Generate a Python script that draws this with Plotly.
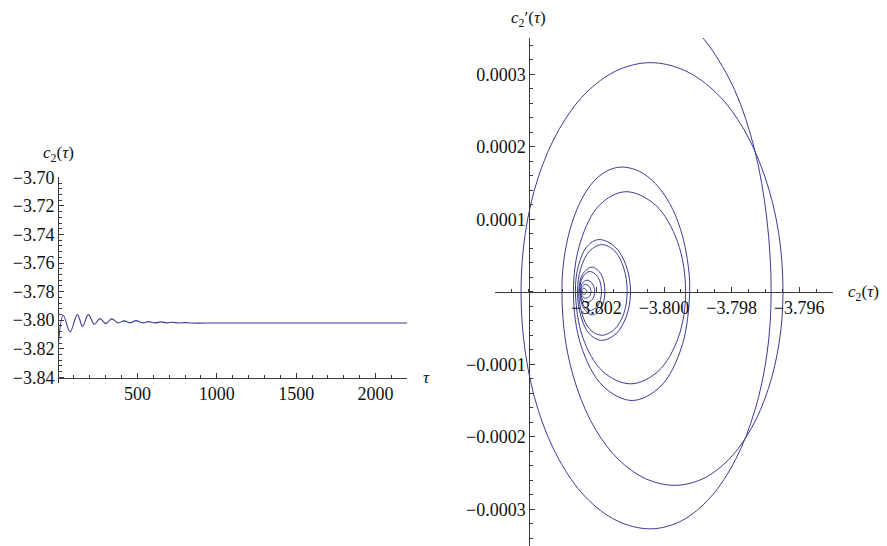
import plotly.graph_objects as go

# ---------------- data ----------------
# left panel: c2(tau) time series (extrema)
tau = [0, 33, 76, 122, 155, 191, 229, 264, 302, 338, 380, 416, 453, 491,
       533, 569, 611, 649, 685, 723, 760, 800, 840, 1000, 1500, 2000, 2200]
c2 = [-3.8200, -3.7966, -3.8082, -3.7961, -3.8043, -3.7961, -3.8029,
      -3.7989, -3.8024, -3.7991, -3.8019, -3.8005, -3.8019, -3.8003, -3.8019,
      -3.8010, -3.8019, -3.8012, -3.8019, -3.8015, -3.8020, -3.8017, -3.8020,
      -3.8020, -3.8020, -3.8020, -3.8020]

# right panel: phase portrait (c2, c2'), points read along the spiral
phase_c2 = [
    # incoming branch
    -3.79986, -3.79924, -3.79867, -3.79790, -3.79732, -3.79696, -3.79683,
    # loop 1
    -3.79695, -3.79731, -3.79788, -3.79862, -3.79948, -3.80040,
    -3.80139, -3.80232, -3.80311, -3.80372, -3.80410, -3.80423,
    -3.80410, -3.80372, -3.80311, -3.80232, -3.80139, -3.80040,
    -3.79939, -3.79844, -3.79763, -3.79701, -3.79661, -3.79648,
    # loop 2
    -3.79659, -3.79691, -3.79742, -3.79808, -3.79885, -3.79968,
    -3.80054, -3.80135, -3.80204, -3.80257, -3.80291, -3.80302,
    -3.80296, -3.80278, -3.80250, -3.80214, -3.80171, -3.80125,
    -3.80073, -3.80025, -3.79983, -3.79951, -3.79931, -3.79924,
    # loop 3
    -3.79947, -3.80009, -3.80094, -3.80181, -3.80245, -3.80268,
    -3.80247, -3.80191, -3.80113, -3.80025, -3.79960, -3.79936,
    # loop 4
    -3.79958, -3.80018, -3.80099, -3.80181, -3.80240, -3.80262,
    -3.80253, -3.80228, -3.80193, -3.80146, -3.80112, -3.80099,
    -3.80111, -3.80142, -3.80185, -3.80221, -3.80246, -3.80256,
    # loop 5
    -3.80246, -3.80220, -3.80183, -3.80146, -3.80119, -3.80109,
    -3.80119, -3.80147, -3.80185, -3.80219, -3.80243, -3.80252,
    # inner loops
    -3.80241, -3.80213, -3.80186, -3.80175, -3.80186, -3.80212, -3.80238,
    -3.80249, -3.80241, -3.80220, -3.80195, -3.80185, -3.80195, -3.80220,
    -3.80239,
    -3.80247, -3.80242, -3.80228, -3.80212, -3.80205, -3.80212, -3.80228,
    -3.80241,
    -3.80246, -3.80242, -3.80233, -3.80221, -3.80216, -3.80221, -3.80233,
    -3.80241,
    -3.80245, -3.80237, -3.80228, -3.80237, -3.80244, -3.80240,
]
phase_dc2 = [
    3.860e-4, 3.684e-4, 3.395e-4, 2.772e-4, 1.960e-4, 1.015e-4, 0.0,
    -0.846e-4, -1.635e-4, -2.312e-4, -2.832e-4, -3.159e-4, -3.27e-4,
    -3.159e-4, -2.832e-4, -2.312e-4, -1.635e-4, -0.846e-4, 0.0,
    0.818e-4, 1.58e-4, 2.234e-4, 2.737e-4, 3.052e-4, 3.16e-4,
    3.052e-4, 2.737e-4, 2.234e-4, 1.58e-4, 0.818e-4, 0.0,
    -0.691e-4, -1.335e-4, -1.888e-4, -2.312e-4, -2.579e-4, -2.67e-4,
    -2.579e-4, -2.312e-4, -1.888e-4, -1.335e-4, -0.691e-4, 0.0,
    0.445e-4, 0.86e-4, 1.216e-4, 1.49e-4, 1.661e-4, 1.72e-4,
    1.661e-4, 1.49e-4, 1.216e-4, 0.86e-4, 0.445e-4, 0.0,
    -0.75e-4, -1.299e-4, -1.50e-4, -1.299e-4, -0.75e-4, 0.0,
    0.69e-4, 1.195e-4, 1.38e-4, 1.195e-4, 0.69e-4, 0.0,
    -0.635e-4, -1.10e-4, -1.27e-4, -1.10e-4, -0.635e-4, 0.0,
    0.36e-4, 0.624e-4, 0.72e-4, 0.624e-4, 0.36e-4, 0.0,
    -0.335e-4, -0.58e-4, -0.67e-4, -0.58e-4, -0.335e-4, 0.0,
    0.325e-4, 0.563e-4, 0.65e-4, 0.563e-4, 0.325e-4, 0.0,
    -0.30e-4, -0.52e-4, -0.60e-4, -0.52e-4, -0.30e-4, 0.0,
    0.24e-4, 0.34e-4, 0.24e-4, 0.0, -0.226e-4, -0.32e-4, -0.226e-4,
    0.0, 0.198e-4, 0.28e-4, 0.198e-4, 0.0, -0.184e-4, -0.26e-4,
    -0.184e-4,
    0.0, 0.113e-4, 0.16e-4, 0.113e-4, 0.0, -0.106e-4, -0.15e-4,
    -0.106e-4,
    0.0, 0.071e-4, 0.10e-4, 0.071e-4, 0.0, -0.064e-4, -0.09e-4,
    -0.064e-4,
    0.0, 0.05e-4, 0.0, -0.04e-4, 0.0, 0.01e-4,
]

left_xticks = [500, 1000, 1500, 2000]
left_yticks = [-3.70, -3.72, -3.74, -3.76, -3.78, -3.80, -3.82, -3.84]
right_xticks = [-3.802, -3.800, -3.798, -3.796]
right_yticks = [-0.0003, -0.0002, -0.0001, 0.0001, 0.0002, 0.0003]

# ---------------- style ----------------
LINE = "rgb(58,58,150)"
AX = "#3a3a3a"
SERIF = "Liberation Serif, Times New Roman, serif"
FONT = dict(family=SERIF, size=18, color="#111")

W, H = 887, 546
OFF = 8  # page body margin


def fx(p):
    return (p - OFF) / W


def fy(p):
    return 1 - (p - OFF) / H


fig = go.Figure()
fig.add_trace(go.Scatter(x=tau, y=c2, mode="lines",
                         line=dict(color=LINE, width=1.1, shape="spline", smoothing=1.0),
                         xaxis="x", yaxis="y", hoverinfo="skip", showlegend=False))
fig.add_trace(go.Scatter(x=phase_c2, y=phase_dc2, mode="lines",
                         line=dict(color=LINE, width=1.0, shape="spline", smoothing=1.0),
                         xaxis="x2", yaxis="y2", hoverinfo="skip", showlegend=False))


def ax_common():
    return dict(showgrid=False, zeroline=False, showline=True, linecolor=AX,
                linewidth=1, ticks="inside", ticklen=5, tickwidth=1,
                tickcolor=AX, tickfont=FONT, fixedrange=True)


# left panel
x1 = ax_common()
x1.update(domain=[fx(58), fx(407.3)], range=[0, 2200], anchor="free",
          position=fy(377.5), tickmode="array", tickvals=left_xticks,
          minor=dict(ticks="inside", ticklen=2.5, dtick=100, tick0=0,
                     tickcolor=AX, showgrid=False))
y1 = ax_common()
y1.update(domain=[fy(383), fy(177.3)], range=[-3.844, -3.70],
          anchor="free", position=fx(58), tickmode="array",
          tickvals=left_yticks, tickformat=".2f",
          minor=dict(ticks="inside", ticklen=2.5, dtick=0.004, tick0=-3.84,
                     tickcolor=AX, showgrid=False))
# right panel
x2 = ax_common()
x2.update(domain=[fx(495), fx(833)], range=[-3.805, -3.795], anchor="free",
          position=fy(291.7), tickmode="array", tickvals=right_xticks,
          tickformat=".3f",
          minor=dict(ticks="inside", ticklen=2.5, dtick=0.0005, tick0=-3.805,
                     tickcolor=AX, showgrid=False))
y2 = ax_common()
y2.update(domain=[fy(545.5), fy(38)], range=[-0.00035, 0.00035],
          anchor="free", position=fx(529.3), tickmode="array",
          tickvals=right_yticks, tickformat=".4f",
          minor=dict(ticks="inside", ticklen=2.5, dtick=0.00002, tick0=0,
                     tickcolor=AX, showgrid=False))

LBL = dict(family=SERIF, size=17, color="#111")
annotations = [
    dict(text="<i>c</i><sub>2</sub>(<i>τ</i>)", x=fx(58), y=fy(154),
         xref="paper", yref="paper", showarrow=False, xanchor="center",
         yanchor="middle", font=LBL),
    dict(text="<i>τ</i>", x=fx(426), y=fy(377), xref="paper", yref="paper",
         showarrow=False, xanchor="center", yanchor="middle", font=LBL),
    dict(text="<i>c</i><sub>2</sub>′(<i>τ</i>)", x=fx(528), y=fy(19),
         xref="paper", yref="paper", showarrow=False, xanchor="center",
         yanchor="middle", font=LBL),
    dict(text="<i>c</i><sub>2</sub>(<i>τ</i>)", x=fx(846), y=fy(293),
         xref="paper", yref="paper", showarrow=False, xanchor="left",
         yanchor="middle", font=LBL),
]

fig.update_layout(width=W, height=H,
                  margin=dict(l=0, r=0, t=0, b=0, autoexpand=False),
                  paper_bgcolor="white", plot_bgcolor="rgba(0,0,0,0)",
                  font=dict(family=SERIF),
                  xaxis=x1, yaxis=y1, xaxis2=x2, yaxis2=y2,
                  annotations=annotations, showlegend=False)

fig.write_html("out.html")
